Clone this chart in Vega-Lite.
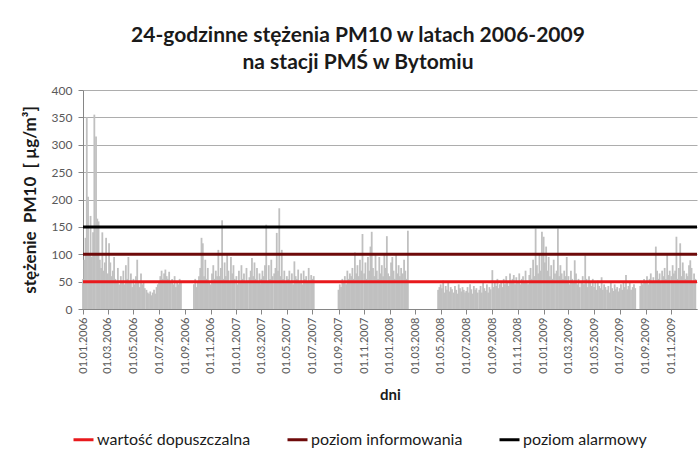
{
"$schema": "https://vega.github.io/schema/vega-lite/v6.json",
"width": 614, "height": 219,
"autosize": {"type": "none"},
"padding": {"left": 83, "top": 90, "right": 2, "bottom": 148},
"background": "white",
"title": {"text": ["24-godzinne stężenia PM10 w latach 2006-2009", "na stacji PMŚ w Bytomiu"], "font": "Lato", "fontSize": 21, "fontWeight": "bold", "color": "#1a1a1a", "lineHeight": 27, "anchor": "middle", "frame": "group", "dx": -32, "offset": 11},
"config": {"view": {"stroke": null}},
"layer": [
{
"data": {"values": [
{"d":"2006-01-01","v":55},{"d":"2006-01-04","v":90},{"d":"2006-01-07","v":130},{"d":"2006-01-10","v":350},{"d":"2006-01-13","v":205},{"d":"2006-01-16","v":100},{"d":"2006-01-19","v":170},{"d":"2006-01-22","v":95},{"d":"2006-01-25","v":140},{"d":"2006-01-28","v":355},
{"d":"2006-02-01","v":315},{"d":"2006-02-04","v":165},{"d":"2006-02-07","v":160},{"d":"2006-02-10","v":90},{"d":"2006-02-13","v":75},{"d":"2006-02-16","v":140},{"d":"2006-02-19","v":70},{"d":"2006-02-22","v":85},{"d":"2006-02-25","v":130},{"d":"2006-02-28","v":60},
{"d":"2006-03-01","v":65},{"d":"2006-03-04","v":120},{"d":"2006-03-07","v":85},{"d":"2006-03-10","v":60},{"d":"2006-03-13","v":70},{"d":"2006-03-16","v":95},{"d":"2006-03-19","v":55},{"d":"2006-03-22","v":50},{"d":"2006-03-25","v":75},{"d":"2006-03-28","v":45},
{"d":"2006-04-01","v":60},{"d":"2006-04-04","v":50},{"d":"2006-04-07","v":70},{"d":"2006-04-10","v":45},{"d":"2006-04-13","v":80},{"d":"2006-04-16","v":55},{"d":"2006-04-19","v":95},{"d":"2006-04-22","v":50},{"d":"2006-04-25","v":65},{"d":"2006-04-28","v":40},
{"d":"2006-05-01","v":55},{"d":"2006-05-04","v":45},{"d":"2006-05-07","v":60},{"d":"2006-05-10","v":90},{"d":"2006-05-13","v":50},{"d":"2006-05-16","v":40},{"d":"2006-05-19","v":65},{"d":"2006-05-22","v":45},{"d":"2006-05-25","v":50},{"d":"2006-05-28","v":38},
{"d":"2006-06-01","v":35},{"d":"2006-06-04","v":30},{"d":"2006-06-07","v":28},{"d":"2006-06-10","v":32},{"d":"2006-06-13","v":25},{"d":"2006-06-16","v":30},{"d":"2006-06-19","v":35},{"d":"2006-06-22","v":28},{"d":"2006-06-25","v":40},{"d":"2006-06-28","v":45},
{"d":"2006-07-01","v":50},{"d":"2006-07-04","v":60},{"d":"2006-07-07","v":70},{"d":"2006-07-10","v":55},{"d":"2006-07-13","v":65},{"d":"2006-07-16","v":72},{"d":"2006-07-19","v":60},{"d":"2006-07-22","v":55},{"d":"2006-07-25","v":68},{"d":"2006-07-28","v":50},
{"d":"2006-08-01","v":55},{"d":"2006-08-04","v":45},{"d":"2006-08-07","v":60},{"d":"2006-08-10","v":40},{"d":"2006-08-13","v":50},{"d":"2006-08-16","v":45},{"d":"2006-08-19","v":55},{"d":"2006-08-22","v":50},
{"d":"2006-09-22","v":45},{"d":"2006-09-25","v":55},{"d":"2006-09-28","v":40},
{"d":"2006-10-01","v":50},{"d":"2006-10-04","v":60},{"d":"2006-10-07","v":75},{"d":"2006-10-10","v":130},{"d":"2006-10-13","v":120},{"d":"2006-10-16","v":60},{"d":"2006-10-19","v":90},{"d":"2006-10-22","v":55},{"d":"2006-10-25","v":75},{"d":"2006-10-28","v":50},
{"d":"2006-11-01","v":45},{"d":"2006-11-04","v":65},{"d":"2006-11-07","v":80},{"d":"2006-11-10","v":55},{"d":"2006-11-13","v":70},{"d":"2006-11-16","v":60},{"d":"2006-11-19","v":108},{"d":"2006-11-22","v":60},{"d":"2006-11-25","v":75},{"d":"2006-11-28","v":162},
{"d":"2006-12-01","v":55},{"d":"2006-12-04","v":85},{"d":"2006-12-07","v":60},{"d":"2006-12-10","v":100},{"d":"2006-12-13","v":70},{"d":"2006-12-16","v":50},{"d":"2006-12-19","v":95},{"d":"2006-12-22","v":65},{"d":"2006-12-25","v":80},{"d":"2006-12-28","v":55},
{"d":"2007-01-01","v":60},{"d":"2007-01-04","v":45},{"d":"2007-01-07","v":70},{"d":"2007-01-10","v":50},{"d":"2007-01-13","v":80},{"d":"2007-01-16","v":55},{"d":"2007-01-19","v":65},{"d":"2007-01-22","v":48},{"d":"2007-01-25","v":75},{"d":"2007-01-28","v":52},
{"d":"2007-02-01","v":58},{"d":"2007-02-04","v":70},{"d":"2007-02-07","v":93},{"d":"2007-02-10","v":60},{"d":"2007-02-13","v":85},{"d":"2007-02-16","v":55},{"d":"2007-02-19","v":75},{"d":"2007-02-22","v":50},{"d":"2007-02-25","v":65},{"d":"2007-02-28","v":45},
{"d":"2007-03-01","v":55},{"d":"2007-03-04","v":70},{"d":"2007-03-07","v":60},{"d":"2007-03-10","v":80},{"d":"2007-03-13","v":154},{"d":"2007-03-16","v":50},{"d":"2007-03-19","v":80},{"d":"2007-03-22","v":55},{"d":"2007-03-25","v":90},{"d":"2007-03-28","v":60},
{"d":"2007-04-01","v":65},{"d":"2007-04-04","v":75},{"d":"2007-04-07","v":139},{"d":"2007-04-10","v":70},{"d":"2007-04-13","v":184},{"d":"2007-04-16","v":60},{"d":"2007-04-19","v":108},{"d":"2007-04-22","v":55},{"d":"2007-04-25","v":70},{"d":"2007-04-28","v":50},
{"d":"2007-05-01","v":60},{"d":"2007-05-04","v":55},{"d":"2007-05-07","v":70},{"d":"2007-05-10","v":50},{"d":"2007-05-13","v":65},{"d":"2007-05-16","v":45},{"d":"2007-05-19","v":87},{"d":"2007-05-22","v":60},{"d":"2007-05-25","v":55},{"d":"2007-05-28","v":72},
{"d":"2007-06-01","v":50},{"d":"2007-06-04","v":65},{"d":"2007-06-07","v":45},{"d":"2007-06-10","v":70},{"d":"2007-06-13","v":55},{"d":"2007-06-16","v":60},{"d":"2007-06-19","v":48},{"d":"2007-06-22","v":75},{"d":"2007-06-25","v":52},{"d":"2007-06-28","v":62},
{"d":"2007-07-01","v":55},{"d":"2007-07-04","v":60},
{"d":"2007-09-01","v":35},{"d":"2007-09-04","v":45},{"d":"2007-09-07","v":40},{"d":"2007-09-10","v":55},{"d":"2007-09-13","v":50},{"d":"2007-09-16","v":60},{"d":"2007-09-19","v":45},{"d":"2007-09-22","v":70},{"d":"2007-09-25","v":55},{"d":"2007-09-28","v":65},
{"d":"2007-10-01","v":60},{"d":"2007-10-04","v":75},{"d":"2007-10-07","v":55},{"d":"2007-10-10","v":103},{"d":"2007-10-13","v":65},{"d":"2007-10-16","v":80},{"d":"2007-10-19","v":60},{"d":"2007-10-22","v":90},{"d":"2007-10-25","v":70},{"d":"2007-10-28","v":137},
{"d":"2007-11-01","v":65},{"d":"2007-11-04","v":85},{"d":"2007-11-07","v":55},{"d":"2007-11-10","v":95},{"d":"2007-11-13","v":70},{"d":"2007-11-16","v":114},{"d":"2007-11-19","v":141},{"d":"2007-11-22","v":75},{"d":"2007-11-25","v":60},{"d":"2007-11-28","v":100},
{"d":"2007-12-01","v":70},{"d":"2007-12-04","v":55},{"d":"2007-12-07","v":95},{"d":"2007-12-10","v":65},{"d":"2007-12-13","v":80},{"d":"2007-12-16","v":60},{"d":"2007-12-19","v":100},{"d":"2007-12-22","v":75},{"d":"2007-12-25","v":133},{"d":"2007-12-28","v":65},
{"d":"2008-01-01","v":60},{"d":"2008-01-04","v":85},{"d":"2008-01-07","v":95},{"d":"2008-01-10","v":70},{"d":"2008-01-13","v":55},{"d":"2008-01-16","v":100},{"d":"2008-01-19","v":65},{"d":"2008-01-22","v":80},{"d":"2008-01-25","v":60},{"d":"2008-01-28","v":75},
{"d":"2008-02-01","v":65},{"d":"2008-02-04","v":90},{"d":"2008-02-07","v":70},{"d":"2008-02-10","v":55},{"d":"2008-02-13","v":143},
{"d":"2008-04-25","v":35},{"d":"2008-04-28","v":40},
{"d":"2008-05-01","v":45},{"d":"2008-05-04","v":38},{"d":"2008-05-07","v":52},{"d":"2008-05-10","v":30},{"d":"2008-05-13","v":42},{"d":"2008-05-16","v":35},{"d":"2008-05-19","v":48},{"d":"2008-05-22","v":32},{"d":"2008-05-25","v":40},{"d":"2008-05-28","v":36},
{"d":"2008-06-01","v":30},{"d":"2008-06-04","v":42},{"d":"2008-06-07","v":35},{"d":"2008-06-10","v":28},{"d":"2008-06-13","v":45},{"d":"2008-06-16","v":38},{"d":"2008-06-19","v":32},{"d":"2008-06-22","v":40},{"d":"2008-06-25","v":35},{"d":"2008-06-28","v":30},
{"d":"2008-07-01","v":33},{"d":"2008-07-04","v":40},{"d":"2008-07-07","v":30},{"d":"2008-07-10","v":45},{"d":"2008-07-13","v":36},{"d":"2008-07-16","v":28},{"d":"2008-07-19","v":42},{"d":"2008-07-22","v":35},{"d":"2008-07-25","v":38},{"d":"2008-07-28","v":30},
{"d":"2008-08-01","v":35},{"d":"2008-08-04","v":42},{"d":"2008-08-07","v":30},{"d":"2008-08-10","v":50},{"d":"2008-08-13","v":38},{"d":"2008-08-16","v":33},{"d":"2008-08-19","v":45},{"d":"2008-08-22","v":30},{"d":"2008-08-25","v":40},{"d":"2008-08-28","v":36},
{"d":"2008-09-01","v":71},{"d":"2008-09-04","v":40},{"d":"2008-09-07","v":48},{"d":"2008-09-10","v":42},{"d":"2008-09-13","v":55},{"d":"2008-09-16","v":38},{"d":"2008-09-19","v":45},{"d":"2008-09-22","v":50},{"d":"2008-09-25","v":40},{"d":"2008-09-28","v":55},
{"d":"2008-10-01","v":45},{"d":"2008-10-04","v":60},{"d":"2008-10-07","v":50},{"d":"2008-10-10","v":42},{"d":"2008-10-13","v":65},{"d":"2008-10-16","v":48},{"d":"2008-10-19","v":55},{"d":"2008-10-22","v":62},{"d":"2008-10-25","v":45},{"d":"2008-10-28","v":58},
{"d":"2008-11-01","v":50},{"d":"2008-11-04","v":65},{"d":"2008-11-07","v":45},{"d":"2008-11-10","v":55},{"d":"2008-11-13","v":60},{"d":"2008-11-16","v":48},{"d":"2008-11-19","v":70},{"d":"2008-11-22","v":52},{"d":"2008-11-25","v":45},{"d":"2008-11-28","v":62},
{"d":"2008-12-01","v":75},{"d":"2008-12-04","v":55},{"d":"2008-12-07","v":90},{"d":"2008-12-10","v":60},{"d":"2008-12-13","v":147},{"d":"2008-12-16","v":80},{"d":"2008-12-19","v":65},{"d":"2008-12-22","v":100},{"d":"2008-12-25","v":70},{"d":"2008-12-28","v":141},
{"d":"2009-01-01","v":132},{"d":"2009-01-04","v":85},{"d":"2009-01-07","v":114},{"d":"2009-01-10","v":70},{"d":"2009-01-13","v":95},{"d":"2009-01-16","v":60},{"d":"2009-01-19","v":80},{"d":"2009-01-22","v":55},{"d":"2009-01-25","v":90},{"d":"2009-01-28","v":65},
{"d":"2009-02-01","v":70},{"d":"2009-02-04","v":147},{"d":"2009-02-07","v":60},{"d":"2009-02-10","v":80},{"d":"2009-02-13","v":65},{"d":"2009-02-16","v":55},{"d":"2009-02-19","v":70},{"d":"2009-02-22","v":60},{"d":"2009-02-25","v":95},{"d":"2009-02-28","v":50},
{"d":"2009-03-01","v":60},{"d":"2009-03-04","v":45},{"d":"2009-03-07","v":70},{"d":"2009-03-10","v":55},{"d":"2009-03-13","v":50},{"d":"2009-03-16","v":89},{"d":"2009-03-19","v":65},{"d":"2009-03-22","v":45},{"d":"2009-03-25","v":55},{"d":"2009-03-28","v":40},
{"d":"2009-04-01","v":50},{"d":"2009-04-04","v":60},{"d":"2009-04-07","v":45},{"d":"2009-04-10","v":98},{"d":"2009-04-13","v":55},{"d":"2009-04-16","v":40},{"d":"2009-04-19","v":60},{"d":"2009-04-22","v":48},{"d":"2009-04-25","v":42},{"d":"2009-04-28","v":55},
{"d":"2009-05-01","v":40},{"d":"2009-05-04","v":48},{"d":"2009-05-07","v":35},{"d":"2009-05-10","v":52},{"d":"2009-05-13","v":42},{"d":"2009-05-16","v":38},{"d":"2009-05-19","v":58},{"d":"2009-05-22","v":35},{"d":"2009-05-25","v":45},{"d":"2009-05-28","v":40},
{"d":"2009-06-01","v":35},{"d":"2009-06-04","v":42},{"d":"2009-06-07","v":30},{"d":"2009-06-10","v":48},{"d":"2009-06-13","v":38},{"d":"2009-06-16","v":33},{"d":"2009-06-19","v":45},{"d":"2009-06-22","v":36},{"d":"2009-06-25","v":40},{"d":"2009-06-28","v":32},
{"d":"2009-07-01","v":38},{"d":"2009-07-04","v":45},{"d":"2009-07-07","v":35},{"d":"2009-07-10","v":50},{"d":"2009-07-13","v":40},{"d":"2009-07-16","v":62},{"d":"2009-07-19","v":36},{"d":"2009-07-22","v":42},{"d":"2009-07-25","v":48},{"d":"2009-07-28","v":35},
{"d":"2009-08-01","v":40},{"d":"2009-08-04","v":45},{"d":"2009-08-07","v":38},
{"d":"2009-08-19","v":42},{"d":"2009-08-22","v":50},{"d":"2009-08-25","v":45},{"d":"2009-08-28","v":55},
{"d":"2009-09-01","v":50},{"d":"2009-09-04","v":60},{"d":"2009-09-07","v":45},{"d":"2009-09-10","v":55},{"d":"2009-09-13","v":65},{"d":"2009-09-16","v":48},{"d":"2009-09-19","v":58},{"d":"2009-09-22","v":52},{"d":"2009-09-25","v":114},{"d":"2009-09-28","v":70},
{"d":"2009-10-01","v":55},{"d":"2009-10-04","v":65},{"d":"2009-10-07","v":50},{"d":"2009-10-10","v":70},{"d":"2009-10-13","v":60},{"d":"2009-10-16","v":75},{"d":"2009-10-19","v":55},{"d":"2009-10-22","v":102},{"d":"2009-10-25","v":62},{"d":"2009-10-28","v":70},
{"d":"2009-11-01","v":60},{"d":"2009-11-04","v":80},{"d":"2009-11-07","v":65},{"d":"2009-11-10","v":70},{"d":"2009-11-13","v":132},{"d":"2009-11-16","v":55},{"d":"2009-11-19","v":75},{"d":"2009-11-22","v":120},{"d":"2009-11-25","v":60},{"d":"2009-11-28","v":85},
{"d":"2009-12-01","v":70},{"d":"2009-12-04","v":55},{"d":"2009-12-07","v":65},{"d":"2009-12-10","v":60},{"d":"2009-12-13","v":80},{"d":"2009-12-16","v":89},{"d":"2009-12-19","v":75},{"d":"2009-12-22","v":50},{"d":"2009-12-25","v":65},{"d":"2009-12-28","v":55}
], "format": {"parse": {"d": "date:'%Y-%m-%d'"}}},
"mark": {"type": "bar", "width": 1.8, "color": "#C0C0C0"},
"encoding": {
"x": {"field": "d", "type": "temporal", "scale": {"domain": [{"year": 2006, "month": 1, "date": 1}, {"year": 2009, "month": 12, "date": 31, "hours": 23}], "nice": false, "padding": 0},
"axis": {"title": "dni", "titleFont": "Lato", "titleFontSize": 15, "titleFontWeight": "bold", "titleColor": "#1a1a1a", "titlePadding": 14,
"tickCount": {"interval": "month", "step": 2}, "format": "%d.%m.%Y", "labelAngle": -90, "labelFont": "Lato", "labelFontSize": 11, "labelColor": "#595959", "labelPadding": 3, "labelOverlap": false, "labelFlush": false,
"tickSize": 5, "tickColor": "#868686", "domainColor": "#868686", "grid": false}},
"y": {"field": "v", "type": "quantitative", "scale": {"domain": [0, 400], "nice": false},
"axis": {"title": "stężenie\u00a0 PM10\u00a0 [ µg/m³]", "titleFont": "Lato", "titleFontSize": 17, "titleFontWeight": "bold", "titleColor": "#1a1a1a", "titlePadding": 12,
"values": [0, 50, 100, 150, 200, 250, 300, 350, 400], "labelOverlap": false, "labelFont": "Lato", "labelFontSize": 12, "labelColor": "#595959", "labelPadding": 6,
"tickSize": 5, "tickColor": "#868686", "domainColor": "#868686", "grid": true, "gridColor": "#ADADAD", "gridWidth": 1}}
}
},
{
"data": {"values": [{"n": "wartość dopuszczalna", "y": 50}, {"n": "poziom informowania", "y": 100}, {"n": "poziom alarmowy", "y": 150}]},
"mark": {"type": "rule", "strokeWidth": 3},
"encoding": {
"y": {"field": "y", "type": "quantitative", "scale": {"domain": [0, 400], "nice": false},
"axis": {"title": "stężenie\u00a0 PM10\u00a0 [ µg/m³]", "titleFont": "Lato", "titleFontSize": 17, "titleFontWeight": "bold", "titleColor": "#1a1a1a", "titlePadding": 12,
"values": [0, 50, 100, 150, 200, 250, 300, 350, 400], "labelOverlap": false, "labelFont": "Lato", "labelFontSize": 12, "labelColor": "#595959", "labelPadding": 6,
"tickSize": 5, "tickColor": "#868686", "domainColor": "#868686", "grid": true, "gridColor": "#ADADAD", "gridWidth": 1}},
"color": {"field": "n", "type": "nominal", "scale": {"domain": ["wartość dopuszczalna", "poziom informowania", "poziom alarmowy"], "range": ["#E8191C", "#6E0A0A", "#000000"]},
"legend": {"title": null, "orient": "none", "legendX": -11, "legendY": 338, "direction": "horizontal", "symbolType": "stroke", "symbolStrokeWidth": 3, "symbolSize": 400, "labelFont": "Lato", "labelFontSize": 16, "labelColor": "#1a1a1a", "labelOffset": 2, "columnPadding": 30, "labelLimit": 300}}
}
}
]
}
